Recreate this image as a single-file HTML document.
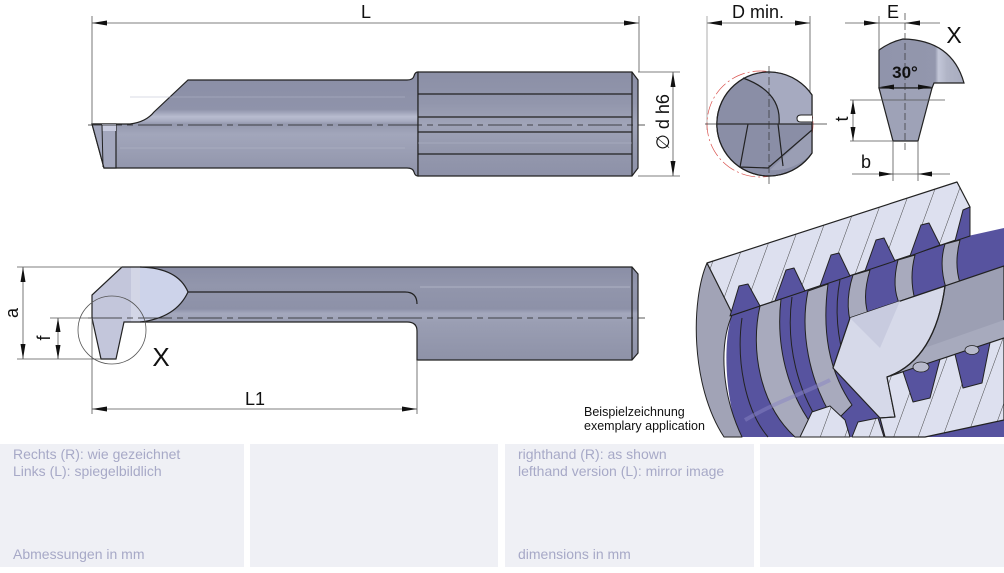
<!DOCTYPE html>
<html><head><meta charset="utf-8"><style>
html,body{margin:0;padding:0;background:#fff;}
body{width:1004px;height:573px;overflow:hidden;position:relative;font-family:"Liberation Sans",sans-serif;}
.p{position:absolute;top:444px;height:123px;background:#eff0f5;}
.t{position:absolute;font-size:14px;color:#a7a9c7;line-height:17px;white-space:nowrap;}
</style></head><body>
<svg width="1004" height="573" style="position:absolute;left:0;top:0" font-family="Liberation Sans, sans-serif">
<defs>
<linearGradient id="g1" gradientUnits="userSpaceOnUse" x1="0" y1="72" x2="0" y2="176">
<stop offset="0" stop-color="#8a8ea6"/><stop offset="0.36" stop-color="#8f93aa"/><stop offset="0.43" stop-color="#b8bccf"/><stop offset="0.47" stop-color="#a9adc2"/><stop offset="0.5" stop-color="#9498ae"/><stop offset="0.6" stop-color="#a2a6bb"/><stop offset="1" stop-color="#8f93a9"/>
</linearGradient>
<linearGradient id="g2" gradientUnits="userSpaceOnUse" x1="0" y1="72" x2="0" y2="176">
<stop offset="0" stop-color="#8b8fa6"/><stop offset="0.3" stop-color="#9296ac"/><stop offset="0.5" stop-color="#a0a4b8"/><stop offset="0.7" stop-color="#969aaf"/><stop offset="1" stop-color="#8d91a8"/>
</linearGradient>
<linearGradient id="g3" gradientUnits="userSpaceOnUse" x1="0" y1="267" x2="0" y2="360">
<stop offset="0" stop-color="#8a8ea6"/><stop offset="0.2" stop-color="#9296ac"/><stop offset="0.45" stop-color="#8d91a8"/><stop offset="0.5" stop-color="#a4a8bd"/><stop offset="0.6" stop-color="#9a9eb3"/><stop offset="1" stop-color="#8e92a8"/>
</linearGradient>
<linearGradient id="g4" gradientUnits="userSpaceOnUse" x1="879" y1="0" x2="964" y2="0">
<stop offset="0" stop-color="#9094ab"/><stop offset="0.66" stop-color="#9397ad"/><stop offset="0.7" stop-color="#c3c7d8"/><stop offset="0.8" stop-color="#b0b4c6"/><stop offset="1" stop-color="#a8acbf"/>
</linearGradient>
<pattern id="h" width="23" height="40" patternUnits="userSpaceOnUse" patternTransform="rotate(20)">
<rect width="23" height="40" fill="#dde0ef"/><line x1="0" y1="0" x2="0" y2="40" stroke="#333" stroke-width="0.9"/>
</pattern>
<clipPath id="cl"><rect x="690" y="180" width="314" height="258"/></clipPath>
</defs>

<!-- TOP TOOL -->
<path d="M92,124 L130,124 Q146,122 154,112 L188,80 L407,80 Q413,80 414,76 Q415,72 418,72 L418,176 Q415,176 414,172 Q413,168 407,168 L104,168 Z" fill="url(#g1)" stroke="#222" stroke-width="1.2"/>
<line x1="130" y1="97" x2="405" y2="97" stroke="#b4b8ca" stroke-width="0.6"/>
<line x1="120" y1="148" x2="405" y2="148" stroke="#b4b8ca" stroke-width="0.6"/>
<path d="M92,124 L116,124 L116,168 L104,168 Z" fill="#a3a7bd" stroke="#222" stroke-width="1.2"/>
<rect x="102" y="124" width="14" height="7" fill="#c9cce0"/>
<line x1="102" y1="125" x2="103" y2="167" stroke="#222" stroke-width="1"/>
<path d="M418,72 L632,72 L638,80 L638,168 L632,176 L418,176 Z" fill="url(#g2)" stroke="#222" stroke-width="1.2"/>
<g stroke="#222" stroke-width="1.2">
<line x1="418" y1="94" x2="632" y2="94"/><line x1="418" y1="117" x2="632" y2="117"/>
<line x1="418" y1="132" x2="632" y2="132"/><line x1="418" y1="154" x2="632" y2="154"/>
<line x1="632" y1="72" x2="632" y2="176"/>
</g>
<line x1="418" y1="143" x2="632" y2="143" stroke="#b4b8ca" stroke-width="0.6"/>
<line x1="88" y1="125" x2="645" y2="125" stroke="#222" stroke-width="0.8" stroke-dasharray="34 5 6 5"/>

<!-- dims top tool -->
<g stroke="#555" stroke-width="0.8">
<line x1="92" y1="23" x2="639" y2="23"/><line x1="92" y1="16" x2="92" y2="124"/><line x1="639" y1="16" x2="639" y2="72"/>
<line x1="638" y1="72" x2="680" y2="72"/><line x1="638" y1="176" x2="680" y2="176"/><line x1="673" y1="72" x2="673" y2="176"/>
</g>
<g fill="#111">
<polygon points="92,23 107,20.5 107,25.5"/><polygon points="639,23 624,20.5 624,25.5"/>
<polygon points="673,72 670.5,87 675.5,87"/><polygon points="673,176 670.5,161 675.5,161"/>
</g>
<text x="366" y="18" font-size="18" text-anchor="middle" fill="#111">L</text>
<text transform="translate(669,122) rotate(-90)" font-size="18" text-anchor="middle" fill="#111">∅ d h6</text>

<!-- D min view -->
<g stroke="#555" stroke-width="0.8">
<line x1="707" y1="23" x2="810" y2="23"/><line x1="707" y1="16" x2="707" y2="130" stroke="#999"/><line x1="810" y1="16" x2="810" y2="95"/>
</g>
<g fill="#111"><polygon points="707,23 722,20.5 722,25.5"/><polygon points="810,23 795,20.5 795,25.5"/></g>
<text x="758" y="18" font-size="18" text-anchor="middle" fill="#111">D min.</text>
<circle cx="760" cy="124" r="53" fill="none" stroke="#d9534f" stroke-width="0.7" stroke-dasharray="14 3 2 3"/>
<path d="M812,95 A52,52 0 1,0 812,153 Z" fill="#8a8ea6" stroke="#222" stroke-width="1.2"/>
<path d="M743,78 Q782,92 779,124 L812,124 L812,95 A52,52 0 0,0 743,78 Z" fill="#a6aac0"/>
<path d="M812,130 L770,170 A52,52 0 0,0 812,153 Z" fill="#9a9eb4"/>
<g stroke="#222" stroke-width="1.2" fill="none">
<path d="M743,78 Q782,92 779,124"/>
<path d="M748,124 L740,167 L768,168 L812,130"/>
<path d="M778,124 L783,166"/>
<path d="M717,124 L812,124"/>
<path d="M812,95 A52,52 0 1,0 812,153 Z"/>
</g>
<path d="M812,115 L801,115 Q797,115 797,118.5 Q797,122 801,122 L812,122" fill="#fff" stroke="#222" stroke-width="1"/>
<line x1="705" y1="124" x2="827" y2="124" stroke="#333" stroke-width="0.7"/>
<line x1="769" y1="66" x2="769" y2="184" stroke="#333" stroke-width="0.7" stroke-dasharray="8 3"/>

<!-- E / X view -->
<path d="M879,50 Q890,42 903,39 Q952,40 964,83 L934,83 L932,88 L879,88 Z" fill="url(#g4)" stroke="#222" stroke-width="1.2"/>
<path d="M879,88 L932,88 L918,141 L893,141 Z" fill="#9ea2b7" stroke="#222" stroke-width="1.2"/>
<g stroke="#555" stroke-width="0.8">
<line x1="845" y1="23" x2="940" y2="23"/><line x1="879" y1="16" x2="879" y2="50"/>
<line x1="850" y1="100" x2="945" y2="100"/><line x1="850" y1="141" x2="893" y2="141"/><line x1="853" y1="100" x2="853" y2="141"/>
<line x1="852" y1="174" x2="950" y2="174"/><line x1="893" y1="141" x2="893" y2="181"/><line x1="918" y1="141" x2="918" y2="181"/>
</g>
<line x1="905" y1="13" x2="905" y2="150" stroke="#333" stroke-width="0.7" stroke-dasharray="7 3"/>
<g fill="#111">
<polygon points="879,23 864,20.5 864,25.5"/><polygon points="905,23 920,20.5 920,25.5"/>
<polygon points="880,87 894,84.5 894,89.5"/><polygon points="932,87 918,84.5 918,89.5"/>
<polygon points="853,100 850.5,114 855.5,114"/><polygon points="853,141 850.5,127 855.5,127"/>
<polygon points="893,174 879,171.5 879,176.5"/><polygon points="918,174 932,171.5 932,176.5"/>
</g>
<text x="893" y="18" font-size="18" text-anchor="middle" fill="#111">E</text>
<text x="954" y="43" font-size="23" text-anchor="middle" fill="#111">X</text>
<text x="905" y="78" font-size="17" font-weight="bold" text-anchor="middle" fill="#111">30°</text>
<text transform="translate(848,119) rotate(-90)" font-size="18" text-anchor="middle" fill="#111">t</text>
<text x="866" y="168" font-size="18" text-anchor="middle" fill="#111">b</text>

<!-- BOTTOM TOOL -->
<path d="M122,267 L632,267 L638,274 L638,353 L632,360 L417,360 L417,331 Q417,322 407,322 L124,322 L116,359 L101,359 L92,318 L92,295 Z" fill="url(#g3)"/>
<path d="M122,267 L141,267 L141,322 L124,322 L116,359 L101,359 L92,318 L92,295 Z" fill="#c3c6db"/>
<rect x="131" y="267" width="10" height="55" fill="#d3d6e6"/>
<path d="M140,267 Q178,268 188,292 Q176,318 140,322 Z" fill="#cdd3ea"/>
<g stroke="#222" stroke-width="1.2" fill="none">
<path d="M122,267 L632,267 L638,274 L638,353 L632,360 L417,360 L417,331 Q417,322 407,322 L124,322 L116,359 L101,359 L92,318 L92,295 Z"/>
<path d="M140,267 Q178,268 188,292 Q176,318 140,322"/>
<path d="M188,292 L405,292 Q417,292 417,304"/>
<line x1="632" y1="267" x2="632" y2="360"/>
</g>
<line x1="420" y1="287" x2="630" y2="287" stroke="#b8bcce" stroke-width="0.7"/>
<line x1="88" y1="318" x2="645" y2="318" stroke="#222" stroke-width="0.8" stroke-dasharray="34 5 6 5"/>
<circle cx="112" cy="330" r="34" fill="none" stroke="#555" stroke-width="0.8"/>
<text x="161" y="366" font-size="26" text-anchor="middle" fill="#111">X</text>
<g stroke="#555" stroke-width="0.8">
<line x1="23" y1="267" x2="23" y2="359"/><line x1="17" y1="267" x2="122" y2="267"/><line x1="17" y1="359" x2="101" y2="359"/>
<line x1="58" y1="318" x2="58" y2="359"/><line x1="50" y1="318" x2="92" y2="318"/>
<line x1="92" y1="409" x2="417" y2="409"/><line x1="92" y1="318" x2="92" y2="414"/><line x1="417" y1="360" x2="417" y2="414"/>
</g>
<g fill="#111">
<polygon points="23,267 20.5,282 25.5,282"/><polygon points="23,359 20.5,344 25.5,344"/>
<polygon points="58,318 55.5,332 60.5,332"/><polygon points="58,359 55.5,345 60.5,345"/>
<polygon points="92,409 107,406.5 107,411.5"/><polygon points="417,409 402,406.5 402,411.5"/>
</g>
<text transform="translate(18,313) rotate(-90)" font-size="18" text-anchor="middle" fill="#111">a</text>
<text transform="translate(50,338) rotate(-90)" font-size="18" text-anchor="middle" fill="#111">f</text>
<text x="255" y="405" font-size="18" text-anchor="middle" fill="#111">L1</text>

<text x="584" y="416" font-size="12.5" fill="#111">Beispielzeichnung</text>
<text x="584" y="430" font-size="12.5" fill="#111">exemplary application</text>

<!-- THREAD APPLICATION -->
<g clip-path="url(#cl)" stroke-linejoin="round">
<path d="M733,312 L968,236 L1004,228 L1004,437 L740,437 C725,400 722,340 733,312 Z" fill="#57539f"/>
<path d="M707,263 C691,300 690,385 724,437 L742,437 C722,395 718,345 733,313 Z" fill="#a1a3b6" stroke="#222" stroke-width="1"/>
<g fill="#a8aabd" stroke="#222" stroke-width="1">
<path d="M760,306 C750,350 760,405 795,437 L822,437 C790,402 775,350 781,299 Z"/>
<path d="M808,291 C800,330 808,380 835,422 L852,405 C828,370 822,330 828,284 Z"/>
<path d="M853,275 C845,300 848,320 855,335 L870,320 C864,305 864,290 870,270 Z"/>
<path d="M898,260 C893,280 895,295 900,305 L915,300 C911,285 911,270 915,255 Z"/>
<path d="M945,244 C940,260 942,275 946,288 L960,283 C956,270 956,255 960,240 Z"/>
</g>
<g fill="none" stroke="#222" stroke-width="1">
<path d="M742,318 C736,360 745,410 768,437"/>
<path d="M792,297 C786,340 795,395 830,437"/>
<path d="M840,280 C834,310 838,340 845,360"/>
</g>
<path d="M745,420 C780,400 800,395 830,380" stroke="#8884c4" stroke-width="4" fill="none" opacity="0.5"/>
<path d="M707,263 L957,182 L970,207 L968,236 L733,315 Z" fill="url(#h)" stroke="#222" stroke-width="1.2"/>
<g fill="#57539f" stroke="#222" stroke-width="1">
<polygon points="730,316 739,286 748,284 760,306"/>
<polygon points="775,301 786,270 794,268 805,291"/>
<polygon points="820,286 831,255 839,253 850,276"/>
<polygon points="865,271 876,240 884,238 895,261"/>
<polygon points="910,256 921,225 929,223 940,245"/>
<polygon points="955,241 963,210 970,207 970,236"/>
</g>
<path d="M850,318 L1004,266 L1004,338 L887,377 Z" fill="#9c9fb3" stroke="#222" stroke-width="1.2"/>
<path d="M887,377 L1004,338 L1004,320 L890,360 Z" fill="#a7aabd"/>
<path d="M850,318 L945,286 Q935,360 887,377 L895,417 L880,418 L833,368 Z" fill="#d6d9e9" stroke="#222" stroke-width="1.2"/>
<path d="M850,318 L900,301 L880,348 Z" fill="#c8cbdf"/>
<path d="M945,286 Q935,360 887,377" fill="none" stroke="#222" stroke-width="1.2"/>
<path d="M887,377 L1004,338 L1004,420 L925,437 L885,437 L880,418 L895,417 Z" fill="url(#h)" stroke="#222" stroke-width="1.2"/>
<g fill="#57539f" stroke="#222" stroke-width="1">
<polygon points="903,371.7 913,402 930,398 940,359.3"/>
<polygon points="955,354.3 963,388 982,383 990,342.7"/>
</g>
<ellipse cx="921" cy="367" rx="8" ry="5" fill="#b8bacc" stroke="#222" stroke-width="0.8"/>
<ellipse cx="972" cy="350" rx="7" ry="4.5" fill="#b8bacc" stroke="#222" stroke-width="0.8"/>
<path d="M800,437 L812,412 L830,406 L845,420 L850,437 Z" fill="url(#h)" stroke="#222" stroke-width="1"/>
<path d="M852,437 L858,422 L878,418 L884,437 Z" fill="url(#h)" stroke="#222" stroke-width="1"/>
</g>
</svg>

<div class="p" style="left:0;width:244px"></div>
<div class="p" style="left:250px;width:248px"></div>
<div class="p" style="left:505px;width:249px"></div>
<div class="p" style="left:760px;width:244px"></div>
<div class="t" style="left:13px;top:446px">Rechts (R): wie gezeichnet<br>Links (L): spiegelbildlich</div>
<div class="t" style="left:13px;top:546px">Abmessungen in mm</div>
<div class="t" style="left:518px;top:446px">righthand (R): as shown<br>lefthand version (L): mirror image</div>
<div class="t" style="left:518px;top:546px">dimensions in mm</div>
</body></html>
